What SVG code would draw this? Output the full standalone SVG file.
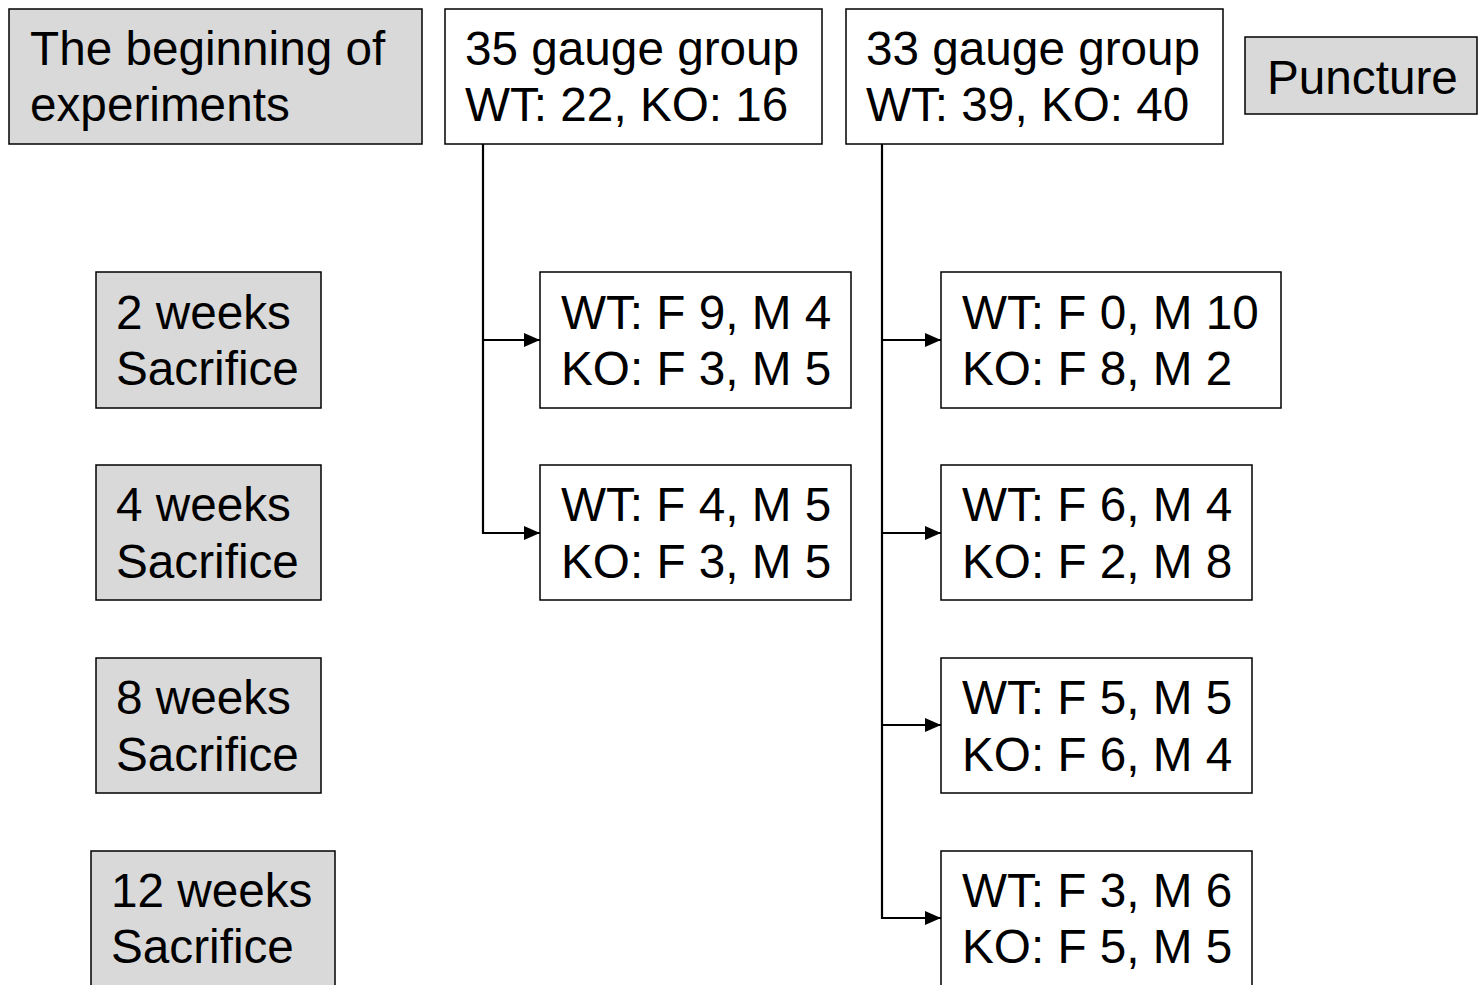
<svg xmlns="http://www.w3.org/2000/svg" width="1478" height="985" viewBox="0 0 1478 985">
<style>
.box{fill:#ffffff;stroke:#000;stroke-width:1.5}
.gray{fill:#d9d9d9;stroke:#000;stroke-width:1.5}
text{font-family:"Liberation Sans",Arial,sans-serif;font-size:47.7px;fill:#000}
.conn{fill:none;stroke:#000;stroke-width:2.2}
</style>
<defs>
<marker id="ah" viewBox="0 0 16 14" refX="16" refY="7" markerWidth="16" markerHeight="14" markerUnits="userSpaceOnUse" orient="auto">
<path d="M0,0 L16,7 L0,14 Z" fill="#000"/>
</marker>
</defs>
<rect width="1478" height="985" fill="#fff"/>
<g id="connectors">
<path class="conn" d="M483,144 V533 H540" marker-end="url(#ah)"/>
<path class="conn" d="M483,340 H540" marker-end="url(#ah)"/>
<path class="conn" d="M882,144 V918 H941" marker-end="url(#ah)"/>
<path class="conn" d="M882,340 H941" marker-end="url(#ah)"/>
<path class="conn" d="M882,533 H941" marker-end="url(#ah)"/>
<path class="conn" d="M882,725 H941" marker-end="url(#ah)"/>
</g>
<g id="beginning"><rect class="gray" x="9" y="9" width="413" height="135"/><text x="30" y="65">The beginning of</text><text x="30" y="121">experiments</text></g>
<g id="g35"><rect class="box" x="445" y="9" width="377" height="135"/><text x="465" y="65">35 gauge group</text><text x="465" y="121">WT: 22, KO: 16</text></g>
<g id="g33"><rect class="box" x="846" y="9" width="377" height="135"/><text x="866" y="65">33 gauge group</text><text x="866" y="121">WT: 39, KO: 40</text></g>
<g id="puncture"><rect class="gray" x="1245" y="37" width="232" height="77"/><text x="1267" y="94">Puncture</text></g>
<g id="w2"><rect class="gray" x="96" y="272" width="225" height="136"/><text x="116" y="329">2 weeks</text><text x="116" y="385">Sacrifice</text></g>
<g id="w4"><rect class="gray" x="96" y="465" width="225" height="135"/><text x="116" y="521">4 weeks</text><text x="116" y="578">Sacrifice</text></g>
<g id="w8"><rect class="gray" x="96" y="658" width="225" height="135"/><text x="116" y="714">8 weeks</text><text x="116" y="771">Sacrifice</text></g>
<g id="w12"><rect class="gray" x="91" y="851" width="244" height="140"/><text x="111" y="907">12 weeks</text><text x="111" y="963">Sacrifice</text></g>
<g id="m35w2"><rect class="box" x="540" y="272" width="311" height="136"/><text x="561" y="329">WT: F 9, M 4</text><text x="561" y="385">KO: F 3, M 5</text></g>
<g id="m35w4"><rect class="box" x="540" y="465" width="311" height="135"/><text x="561" y="521">WT: F 4, M 5</text><text x="561" y="578">KO: F 3, M 5</text></g>
<g id="m33w2"><rect class="box" x="941" y="272" width="340" height="136"/><text x="962" y="329">WT: F 0, M 10</text><text x="962" y="385">KO: F 8, M 2</text></g>
<g id="m33w4"><rect class="box" x="941" y="465" width="311" height="135"/><text x="962" y="521">WT: F 6, M 4</text><text x="962" y="578">KO: F 2, M 8</text></g>
<g id="m33w8"><rect class="box" x="941" y="658" width="311" height="135"/><text x="962" y="714">WT: F 5, M 5</text><text x="962" y="771">KO: F 6, M 4</text></g>
<g id="m33w12"><rect class="box" x="941" y="851" width="311" height="140"/><text x="962" y="907">WT: F 3, M 6</text><text x="962" y="963">KO: F 5, M 5</text></g>
</svg>
